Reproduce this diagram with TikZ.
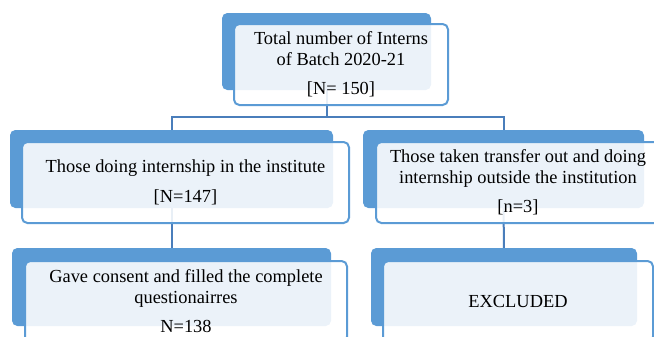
\documentclass[tikz,border=0pt]{standalone}
\usepackage{fontspec}
\setmainfont{Liberation Serif}
\usepackage{tikz}
\usetikzlibrary{backgrounds}
\definecolor{accent}{HTML}{5B9BD5}
\definecolor{linkblue}{HTML}{4A7EBB}
\tikzset{
  backbox/.style={fill=accent,rounded corners=4pt,minimum height=58.5pt,inner sep=0pt},
  frontbox/.style={draw=accent,line width=1.5pt,fill=white,fill opacity=0.88,text opacity=1,
    rounded corners=4pt,minimum height=60.75pt,inner sep=0pt,align=center,
    font=\fontsize{13.8}{15.2}\selectfont},
  link/.style={draw=linkblue,line width=1.5pt}
}

\begin{document}
\begin{tikzpicture}[x=0.75pt,y=-0.75pt]
  \path[use as bounding box,clip] (0,0) rectangle (654,336);
  % top: whole batch
  \node[backbox,minimum width=156.75pt,minimum height=57.75pt] (topb) at (326.5,51.5) {};
  \node[frontbox,minimum width=160.5pt] (top) at (341,64.5)
    {Total number of Interns\\of Batch 2020-21\\[7pt]{[N= 150]}};
  % middle row
  \node[backbox,minimum width=242.25pt] (inb) at (171.5,169) {};
  \node[frontbox,minimum width=245.25pt] (in) at (185.5,182.5)
    {Those doing internship in the institute\\[7pt]{[N=147]}};
  \node[backbox,minimum width=210.75pt] (outb) at (503.5,169) {};
  \node[frontbox,minimum width=213pt] (out) at (518,182.5)
    {Those taken transfer out and doing\\internship outside the institution\\[7pt]{[n=3]}};
  % bottom row
  \node[backbox,minimum width=239.25pt] (consb) at (171.5,287) {};
  \node[frontbox,minimum width=241.5pt] (cons) at (186,301.5)
    {Gave consent and filled the complete\\questionairres\\[7pt]N=138};
  \node[backbox,minimum width=199.5pt] (exclb) at (504,287) {};
  \node[frontbox,minimum width=202.5pt] (excl) at (518,301.5) {EXCLUDED};
  % connectors behind the boxes
  \coordinate (split) at (326.5,117);
  \begin{scope}[on background layer]
    \draw[link] (topb.center) -- (split);
    \draw[link] (inb.center) -- (inb.center |- split) -- (outb.center |- split) -- (outb.center);
    \draw[link] (inb.center) -- (consb.center);
    \draw[link] (outb.center) -- (exclb.center);
  \end{scope}
\end{tikzpicture}
\end{document}
